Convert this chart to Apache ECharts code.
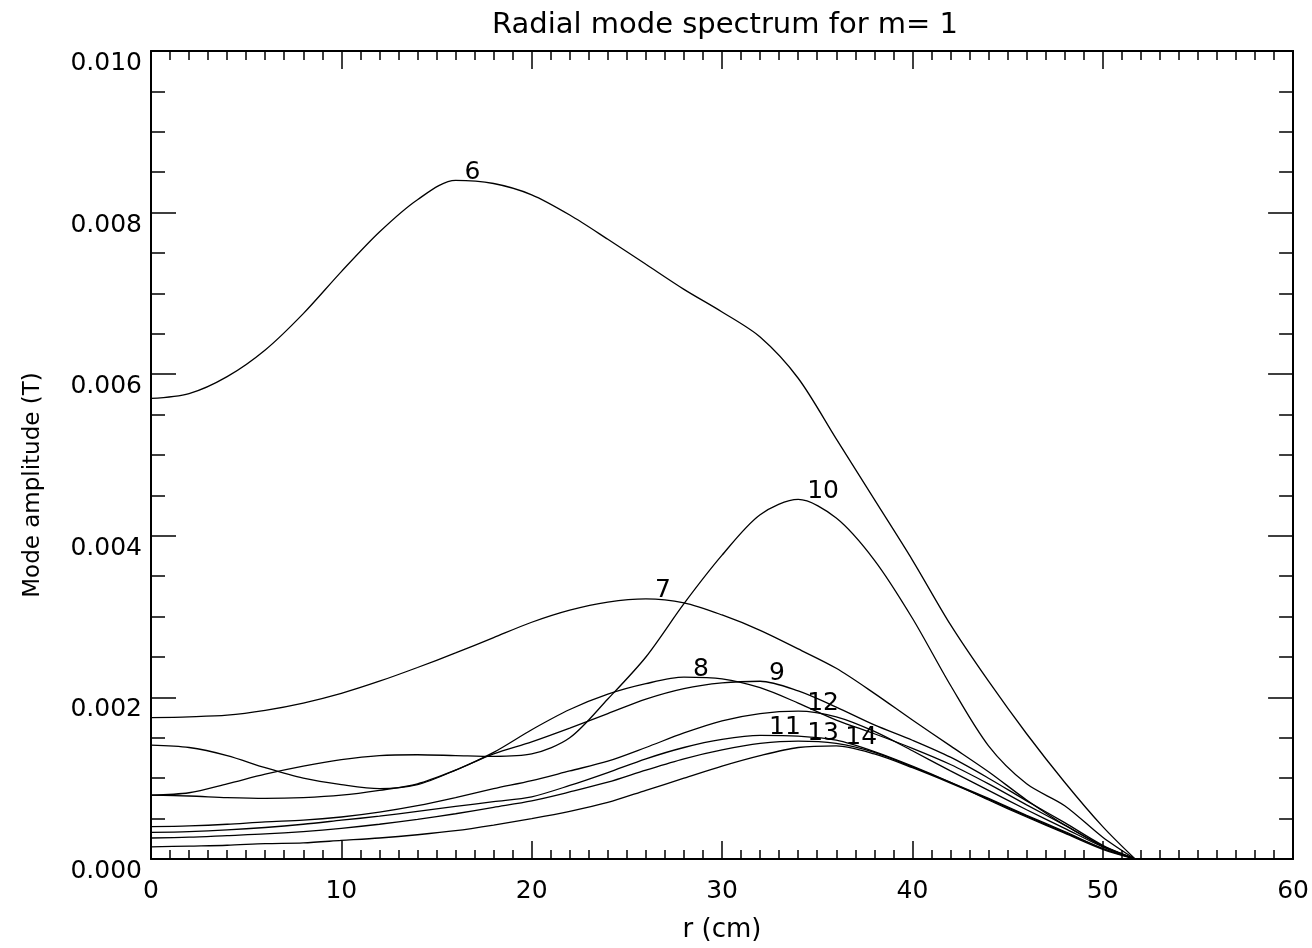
<!DOCTYPE html>
<html>
<head>
<meta charset="utf-8">
<script src="https://cdn.jsdelivr.net/npm/echarts@6/dist/echarts.min.js"></script>
<style>
html,body{margin:0;padding:0;background:#fff;}
#chart{width:1312px;height:948px;}
</style>
</head>
<body>
<div id="chart"></div>
<script>
const titleText = 'Radial mode spectrum for m= 1';
const xName = 'r (cm)';
const yName = 'Mode amplitude (T)';

const r = [0, 2, 4, 6, 8, 10, 12, 14, 16, 18, 20, 22, 24, 26, 28, 30, 32, 34, 36, 38, 40, 42, 44, 46, 48, 50, 51.7];

const mode6  = [0.00570,0.00576,0.00597,0.00630,0.00675,0.00727,0.00776,0.00816,0.00840,0.00836,0.00822,0.00797,0.00767,0.00736,0.00705,0.00677,0.00646,0.00595,0.00520,0.00445,0.00370,0.00290,0.00220,0.00155,0.00095,0.00040,0];
const mode7  = [0.00175,0.00176,0.00178,0.00184,0.00193,0.00205,0.00220,0.00237,0.00255,0.00274,0.00293,0.00308,0.00318,0.00322,0.00317,0.00302,0.00283,0.00260,0.00236,0.00205,0.00172,0.00140,0.00108,0.00073,0.00042,0.00016,0];
const mode8  = [0.00141,0.00138,0.00128,0.00113,0.00100,0.00092,0.00087,0.00092,0.00110,0.00132,0.00160,0.00185,0.00204,0.00217,0.00225,0.00223,0.00212,0.00193,0.00172,0.00155,0.00137,0.00117,0.00093,0.00067,0.00042,0.00016,0];
const mode9  = [0.00079,0.00078,0.00076,0.00075,0.00076,0.00079,0.00085,0.00093,0.00110,0.00130,0.00145,0.00162,0.00180,0.00198,0.00211,0.00218,0.00220,0.00208,0.00188,0.00166,0.00147,0.00126,0.00100,0.00072,0.00045,0.00017,0];
const mode10 = [0.00079,0.00082,0.00093,0.00105,0.00115,0.00123,0.00128,0.00129,0.00128,0.00127,0.00130,0.00150,0.00198,0.00250,0.00316,0.00376,0.00426,0.00445,0.00422,0.00370,0.00298,0.00215,0.00140,0.00093,0.00066,0.00027,0];
const mode11 = [0.00033,0.00034,0.00036,0.00039,0.00043,0.00048,0.00053,0.00059,0.00065,0.00071,0.00077,0.00091,0.00107,0.00124,0.00138,0.00148,0.00153,0.00152,0.00147,0.00133,0.00115,0.00095,0.00073,0.00052,0.00032,0.00012,0];
const mode12 = [0.00040,0.00041,0.00043,0.00046,0.00048,0.00052,0.00058,0.00066,0.00076,0.00087,0.00097,0.00109,0.00121,0.00138,0.00156,0.00171,0.00180,0.00183,0.00176,0.00158,0.00134,0.00109,0.00085,0.00061,0.00038,0.00015,0];
const mode13 = [0.00026,0.00027,0.00029,0.00031,0.00034,0.00038,0.00043,0.00049,0.00056,0.00064,0.00072,0.00083,0.00095,0.00110,0.00124,0.00135,0.00143,0.00146,0.00143,0.00132,0.00114,0.00095,0.00075,0.00054,0.00034,0.00013,0];
const mode14 = [0.00015,0.00016,0.00017,0.00019,0.00020,0.00023,0.00026,0.00030,0.00035,0.00042,0.00050,0.00059,0.00070,0.00085,0.00100,0.00115,0.00128,0.00138,0.00140,0.00130,0.00113,0.00094,0.00074,0.00053,0.00033,0.00013,0];

const modeLabels = ['6','7','8','9','10','11','12','13','14'];
const modeValues = [mode6, mode7, mode8, mode9, mode10, mode11, mode12, mode13, mode14];

const xTicks = {min: 0, max: 60, interval: 10};
const yTicks = {min: 0, max: 0.010, interval: 0.002};

const FONT = '"DejaVu Sans", "Liberation Sans", sans-serif';

const chart = echarts.init(document.getElementById('chart'), null, {renderer: 'canvas'});

const series = modeValues.map((vals, i) => ({
  type: 'line',
  name: modeLabels[i],
  data: r.map((x, j) => [x, vals[j]]),
  showSymbol: false,
  smooth: 0.3,
  lineStyle: {color: '#000', width: 1.3},
  itemStyle: {color: '#000'},
  emphasis: {disabled: true},
  silent: true,
  markPoint: {
    symbol: 'circle',
    symbolSize: 1,
    itemStyle: {color: 'rgba(0,0,0,0)'},
    silent: true,
    data: [{type: 'max', valueDim: 'y', name: modeLabels[i]}],
    label: {
      show: true,
      formatter: modeLabels[i],
      position: 'top',
      align: 'left',
      offset: [9, 10],
      color: '#000',
      fontSize: 25,
      fontFamily: FONT
    }
  }
}));

const tickStyle = {color: '#000', width: 1.5};

const option = {
  animation: false,
  backgroundColor: '#fff',
  title: {
    text: titleText,
    left: 720,
    textAlign: 'center',
    top: 6,
    textStyle: {color: '#000', fontSize: 29, fontWeight: 'normal', fontFamily: FONT}
  },
  grid: {left: 151, right: 16, top: 51, bottom: 84, containLabel: false},
  xAxis: [
    {
      type: 'value', position: 'bottom',
      min: xTicks.min, max: xTicks.max, interval: xTicks.interval,
      name: xName, nameLocation: 'middle', nameGap: 58,
      nameTextStyle: {color: '#000', fontSize: 26, fontFamily: FONT},
      axisLine: {show: true, onZero: false, lineStyle: {color: '#000', width: 2}},
      axisTick: {show: true, inside: true, length: 18, lineStyle: tickStyle},
      minorTick: {show: true, splitNumber: 10, length: 9, lineStyle: tickStyle},
      axisLabel: {color: '#000', fontSize: 25, fontFamily: FONT, margin: 20},
      splitLine: {show: false}
    },
    {
      type: 'value', position: 'top',
      min: xTicks.min, max: xTicks.max, interval: xTicks.interval,
      axisLine: {show: true, onZero: false, lineStyle: {color: '#000', width: 2}},
      axisTick: {show: true, inside: true, length: 18, lineStyle: tickStyle},
      minorTick: {show: true, splitNumber: 10, length: 9, lineStyle: tickStyle},
      axisLabel: {show: false},
      splitLine: {show: false}
    }
  ],
  yAxis: [
    {
      type: 'value', position: 'left',
      min: yTicks.min, max: yTicks.max, interval: yTicks.interval,
      name: yName, nameLocation: 'middle', nameGap: 106, nameRotate: 90,
      nameTextStyle: {color: '#000', fontSize: 23, fontFamily: FONT, padding: [0, 60, 0, 0]},
      axisLine: {show: true, onZero: false, lineStyle: {color: '#000', width: 2}},
      axisTick: {show: true, inside: true, length: 25, lineStyle: tickStyle},
      minorTick: {show: true, splitNumber: 4, length: 14, lineStyle: tickStyle},
      axisLabel: {color: '#000', fontSize: 25, fontFamily: FONT, margin: 9, verticalAlign: 'top',
                  formatter: v => v.toFixed(3)},
      splitLine: {show: false}
    },
    {
      type: 'value', position: 'right',
      min: yTicks.min, max: yTicks.max, interval: yTicks.interval,
      axisLine: {show: true, onZero: false, lineStyle: {color: '#000', width: 2}},
      axisTick: {show: true, inside: true, length: 25, lineStyle: tickStyle},
      minorTick: {show: true, splitNumber: 4, length: 14, lineStyle: tickStyle},
      axisLabel: {show: false},
      splitLine: {show: false}
    }
  ],
  series: series
};

chart.setOption(option);
</script>
</body>
</html>
